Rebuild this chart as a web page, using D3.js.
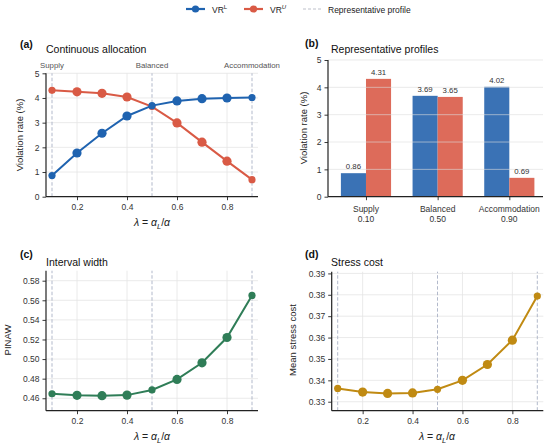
<!DOCTYPE html>
<html>
<head>
<meta charset="utf-8">
<script src="https://cdn.jsdelivr.net/npm/d3@7"></script>
<style>
  body { margin: 0; background: #fff; }
  svg { font-family: "Liberation Sans", Arial, sans-serif; }
</style>
</head>
<body>
<svg id="chart" width="550" height="446"></svg>
<script>
// ---- data ----
const lambdas = [0.1, 0.2, 0.3, 0.4, 0.5, 0.6, 0.7, 0.8, 0.9];
const vrLower = [0.86, 1.77, 2.57, 3.27, 3.69, 3.88, 3.97, 4.00, 4.02];
const vrUpper = [4.31, 4.25, 4.19, 4.04, 3.65, 2.99, 2.21, 1.44, 0.69];
const pinaw = [0.4646, 0.4630, 0.4626, 0.4632, 0.4685, 0.4792, 0.4962, 0.5220, 0.5650];
const stressCost = [0.3362, 0.3345, 0.3339, 0.3341, 0.3358, 0.3400, 0.3474, 0.3588, 0.3794];

const profiles = ["Supply", "Balanced", "Accommodation"];
const profileLambdas = ["0.10", "0.50", "0.90"];
const profileLower = [0.86, 3.69, 4.02];
const profileUpper = [4.31, 3.65, 0.69];
const repLambdas = [0.1, 0.5, 0.9];

const xTicks = [0.2, 0.4, 0.6, 0.8];
const vrTicks = [0, 1, 2, 3, 4, 5];
const pinawTicks = [0.46, 0.48, 0.50, 0.52, 0.54, 0.56, 0.58];
const stressTicks = [0.33, 0.34, 0.35, 0.36, 0.37, 0.38, 0.39];

const colors = {
  lower: "#1f63b0", upper: "#d95a45",
  barLower: "#3a72b5", barUpper: "#dd6b5a",
  green: "#2f7d57", gold: "#c08a12",
  dash: "#a9b1c5", grid: "#e4e4e4"
};

const svg = d3.select("#chart");

function grid(g, x, y, xt, yt) {
  const [x0, x1] = x.range();
  const [y0, y1] = y.range();
  g.append("g").selectAll("line").data(xt).join("line")
    .attr("x1", d => x(d)).attr("x2", d => x(d))
    .attr("y1", y0).attr("y2", y1)
    .attr("stroke", colors.grid).attr("stroke-width", 0.8);
  g.append("g").selectAll("line").data(yt).join("line")
    .attr("x1", x0).attr("x2", x1)
    .attr("y1", d => y(d)).attr("y2", d => y(d))
    .attr("stroke", colors.grid).attr("stroke-width", 0.8);
}

function spines(g, x, y, xt, yt, yFmt, xAxisFn) {
  const [x0, x1] = x.range();
  const [y0, y1] = y.range();
  const ya = g.append("g").attr("transform", `translate(${x0},0)`)
    .call(d3.axisLeft(y).tickValues(yt).tickFormat(yFmt).tickSize(3.5).tickPadding(3));
  ya.select(".domain").attr("d", `M0,${y0}V${y1}`).attr("stroke-width", 1.2);
  if (xAxisFn) {
    xAxisFn(g);
  } else {
    const xa = g.append("g").attr("transform", `translate(0,${y0})`)
      .call(d3.axisBottom(x).tickValues(xt).tickFormat(d3.format(".1f")).tickSize(3.5).tickPadding(4));
    xa.select(".domain").attr("d", `M${x0},0H${x1}`).attr("stroke-width", 1.2);
    xa.selectAll("text").attr("font-size", 8.5).attr("fill", "#333");
  }
  g.selectAll(".tick line").attr("stroke", "#222").attr("stroke-width", 0.9);
  ya.selectAll("text").attr("font-size", 8.5).attr("fill", "#333");
  g.selectAll(".domain").attr("stroke", "#222");
}

function repLines(g, x, y) {
  const [y0, y1] = y.range();
  g.append("g").selectAll("line").data(repLambdas).join("line")
    .attr("x1", d => x(d)).attr("x2", d => x(d))
    .attr("y1", y0).attr("y2", y1)
    .attr("stroke", colors.dash).attr("stroke-width", 0.9)
    .attr("stroke-dasharray", "3.5,2");
}

function series(g, x, y, vals, color) {
  const pts = lambdas.map((l, i) => [l, vals[i]]);
  g.append("path").datum(pts)
    .attr("fill", "none").attr("stroke", color).attr("stroke-width", 2)
    .attr("d", d3.line().x(d => x(d[0])).y(d => y(d[1])));
  g.append("g").selectAll("circle").data(pts).join("circle")
    .attr("cx", d => x(d[0])).attr("cy", d => y(d[1]))
    .attr("r", d => repLambdas.includes(d[0]) ? 3.6 : 4.6)
    .attr("fill", color);
}

function lambdaLabel(g, cx, cy) {
  const t = g.append("text").attr("x", cx).attr("y", cy)
    .attr("text-anchor", "middle").attr("font-size", 10.5).attr("fill", "#222");
  t.append("tspan").attr("font-style", "italic").text("λ");
  t.append("tspan").text(" = ");
  t.append("tspan").attr("font-style", "italic").text("α");
  t.append("tspan").attr("font-style", "italic").attr("font-size", 7.5).attr("dy", 2.5).text("L");
  t.append("tspan").attr("dy", -2.5).text("/");
  t.append("tspan").attr("font-style", "italic").text("α");
}

function panelText(letter, lx, ly, title, tx, ty) {
  svg.append("text").attr("x", lx).attr("y", ly).attr("font-size", 10.5)
    .attr("font-weight", "bold").attr("fill", "#111").text(letter);
  svg.append("text").attr("x", tx).attr("y", ty).attr("font-size", 10.5)
    .attr("fill", "#111").text(title);
}

function yLabel(text, x, y) {
  svg.append("text").attr("transform", `translate(${x},${y}) rotate(-90)`)
    .attr("text-anchor", "middle").attr("font-size", 9.5).attr("fill", "#222").text(text);
}

// ---- panel (a) ----
{
  const g = svg.append("g");
  const x = d3.scaleLinear().domain([0.076, 0.924]).range([46, 258]);
  const y = d3.scaleLinear().domain([0, 5]).range([196.7, 73.3]);
  grid(g, x, y, xTicks, vrTicks.slice(1));
  repLines(g, x, y);
  series(g, x, y, vrUpper, colors.upper);
  series(g, x, y, vrLower, colors.lower);
  spines(g, x, y, xTicks, vrTicks, d3.format("d"));
  g.append("g").selectAll("text").data(profiles).join("text")
    .attr("x", (d, i) => x(repLambdas[i])).attr("y", 68)
    .attr("text-anchor", "middle").attr("font-size", 7.8).attr("fill", "#555")
    .text(d => d);
  lambdaLabel(g, 152, 226);
  panelText("(a)", 20, 48, "Continuous allocation", 46, 53);
  yLabel("Violation rate (%)", 23, 135);
}

// ---- panel (b) ----
{
  const g = svg.append("g");
  const x = d3.scaleLinear().domain([-0.53, 2.47]).range([328, 543]);
  const y = d3.scaleLinear().domain([0, 5]).range([196.7, 60]);
  const bw = 0.35;
  const idx = profiles.map((p, i) => i);
  g.append("g").selectAll("rect").data(idx).join("rect")
    .attr("x", i => x(i - bw)).attr("width", x(bw) - x(0))
    .attr("y", i => y(profileLower[i])).attr("height", i => y(0) - y(profileLower[i]))
    .attr("fill", colors.barLower);
  g.append("g").selectAll("rect").data(idx).join("rect")
    .attr("x", i => x(i)).attr("width", x(bw) - x(0))
    .attr("y", i => y(profileUpper[i])).attr("height", i => y(0) - y(profileUpper[i]))
    .attr("fill", colors.barUpper);
  // grid drawn over bars
  g.append("g").selectAll("line").data(vrTicks.slice(1)).join("line")
    .attr("x1", 328).attr("x2", 543)
    .attr("y1", d => y(d)).attr("y2", d => y(d))
    .attr("stroke", "#dcdcdc").attr("stroke-opacity", 0.75).attr("stroke-width", 0.8);
  g.append("g").selectAll("text").data(idx).join("text")
    .attr("x", i => x(i - bw / 2)).attr("y", i => y(profileLower[i]) - 4)
    .attr("text-anchor", "middle").attr("font-size", 7.8).attr("fill", "#333")
    .text(i => profileLower[i].toFixed(2));
  g.append("g").selectAll("text").data(idx).join("text")
    .attr("x", i => x(i + bw / 2)).attr("y", i => y(profileUpper[i]) - 4)
    .attr("text-anchor", "middle").attr("font-size", 7.8).attr("fill", "#333")
    .text(i => profileUpper[i].toFixed(2));
  spines(g, x, y, idx, vrTicks, d3.format("d"), gg => {
    const xa = gg.append("g").attr("transform", `translate(0,${y(0)})`)
      .call(d3.axisBottom(x).tickValues(idx).tickFormat("").tickSize(3.5));
    xa.select(".domain").attr("d", `M328,0H543`).attr("stroke-width", 1.2);
    const lbl = gg.append("g").selectAll("text").data(idx).join("text")
      .attr("x", i => x(i)).attr("y", y(0) + 15.5)
      .attr("text-anchor", "middle").attr("font-size", 8.5).attr("fill", "#333");
    lbl.append("tspan").attr("x", i => x(i)).text(i => profiles[i]);
    lbl.append("tspan").attr("x", i => x(i)).attr("dy", 9.5).text(i => profileLambdas[i]);
  });
  panelText("(b)", 305, 47, "Representative profiles", 331, 53);
  yLabel("Violation rate (%)", 307, 128);
}

// ---- panel (c) ----
{
  const g = svg.append("g");
  const x = d3.scaleLinear().domain([0.076, 0.924]).range([46, 258]);
  const y = d3.scaleLinear().domain([0.4473, 0.5902]).range([410.7, 270.7]);
  grid(g, x, y, xTicks, pinawTicks);
  repLines(g, x, y);
  series(g, x, y, pinaw, colors.green);
  spines(g, x, y, xTicks, pinawTicks, d3.format(".2f"));
  lambdaLabel(g, 152, 440);
  panelText("(c)", 20, 258, "Interval width", 46, 266);
  yLabel("PINAW", 11, 340);
}

// ---- panel (d) ----
{
  const g = svg.append("g");
  const x = d3.scaleLinear().domain([0.076, 0.924]).range([331.7, 543.3]);
  const y = d3.scaleLinear().domain([0.3258, 0.3908]).range([410.7, 271.7]);
  grid(g, x, y, xTicks, stressTicks);
  repLines(g, x, y);
  series(g, x, y, stressCost, colors.gold);
  spines(g, x, y, xTicks, stressTicks, d3.format(".2f"));
  lambdaLabel(g, 437, 440);
  panelText("(d)", 305, 258, "Stress cost", 331, 266);
  yLabel("Mean stress cost", 296, 340);
}

// ---- legend ----
{
  const lg = svg.append("g").attr("transform", "translate(0,9)");
  const items = [
    { key: "L", color: colors.lower, x: 186 },
    { key: "U", color: colors.upper, x: 244 }
  ];
  items.forEach(it => {
    lg.append("line").attr("x1", it.x).attr("x2", it.x + 19).attr("y1", 0).attr("y2", 0)
      .attr("stroke", it.color).attr("stroke-width", 2.2);
    lg.append("circle").attr("cx", it.x + 9.5).attr("cy", 0).attr("r", 3.6).attr("fill", it.color);
    const t = lg.append("text").attr("x", it.x + 26).attr("y", 3.5)
      .attr("font-size", 8.5).attr("fill", "#222");
    t.append("tspan").text("VR");
    t.append("tspan").attr("font-size", 6).attr("dy", -3.5)
      .attr("font-style", it.key === "U" ? "italic" : "normal").text(it.key);
  });
  lg.append("line").attr("x1", 303).attr("x2", 322).attr("y1", 0).attr("y2", 0)
    .attr("stroke", "#b5b9c4").attr("stroke-width", 0.9).attr("stroke-dasharray", "3,2");
  lg.append("text").attr("x", 328).attr("y", 3.5).attr("font-size", 8.5).attr("fill", "#222")
    .text("Representative profile");
}
</script>
</body>
</html>
